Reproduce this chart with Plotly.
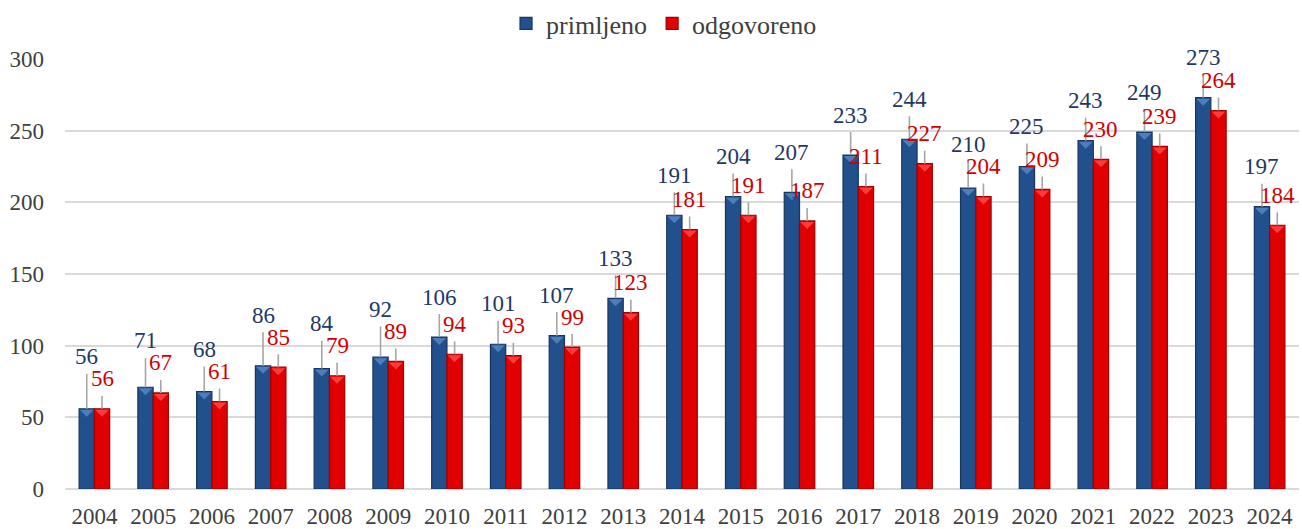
import plotly.graph_objects as go

years = [2004, 2005, 2006, 2007, 2008, 2009, 2010, 2011, 2012, 2013, 2014,
         2015, 2016, 2017, 2018, 2019, 2020, 2021, 2022, 2023, 2024]
primljeno = [56, 71, 68, 86, 84, 92, 106, 101, 107, 133, 191,
             204, 207, 233, 244, 210, 225, 243, 249, 273, 197]
odgovoreno = [56, 67, 61, 85, 79, 89, 94, 93, 99, 123, 181,
              191, 187, 211, 227, 204, 209, 230, 239, 264, 184]
series_names = ["primljeno", "odgovoreno"]

FONT = "Liberation Serif, Times New Roman, serif"
BLUE = "#22508D"
BLUE_EDGE = "#17365F"
BLUE_TOP = "#4E7DBB"
RED = "#E00000"
RED_EDGE = "#A00000"
RED_TOP = "#FF3B3B"
BLUE_TXT = "#1F3864"
RED_TXT = "#D00000"
BW = 0.26

W, H = 1302, 529
M = dict(l=65, r=3, t=59, b=40)
YMAX = 300
px_per_unit = (H - M["t"] - M["b"]) / YMAX

fig = go.Figure()
fig.add_trace(go.Bar(x=years, y=primljeno, name=series_names[0], offset=-BW, width=BW,
                     marker=dict(color=BLUE, line=dict(color=BLUE_EDGE, width=1.2))))
fig.add_trace(go.Bar(x=years, y=odgovoreno, name=series_names[1], offset=0, width=BW,
                     marker=dict(color=RED, line=dict(color=RED_EDGE, width=1.2))))

# bevel-like top triangles
for yr, b, r in zip(years, primljeno, odgovoreno):
    for x0, val, col in ((yr - BW, b, BLUE_TOP), (yr, r, RED_TOP)):
        x1 = x0 + BW
        xc = x0 + BW / 2
        fig.add_shape(type="path", xref="x", yref="y", ysizemode="pixel", yanchor=val,
                      path=f"M {x0 + 0.012},-1 L {x1 - 0.012},-1 L {xc},-8 Z",
                      fillcolor=col, line=dict(width=0), layer="above")

RED_OFF = 30
for yr, b, r in zip(years, primljeno, odgovoreno):
    blue_off = max(40, RED_OFF + 22 - (b - r) * px_per_unit)
    for xv, val, off, col in ((yr - BW / 2, b, blue_off, BLUE_TXT),
                              (yr + BW / 2, r, RED_OFF, RED_TXT)):
        fig.add_annotation(x=xv, y=val, text=str(val), showarrow=True, arrowhead=0,
                           arrowwidth=1.6, arrowcolor="#A6A6A6", ax=0, ay=-off,
                           standoff=0, startstandoff=4, borderpad=0,
                           font=dict(family=FONT, size=23, color=col))

fig.update_layout(
    width=W, height=H, margin=M,
    plot_bgcolor="white", paper_bgcolor="white",
    barmode="overlay",
    font=dict(family=FONT, size=23, color="#404040"),
    legend=dict(orientation="h", x=0.51, xref="container", xanchor="center",
                y=1.0, yref="container", yanchor="top",
                font=dict(family=FONT, size=26, color="#404040"),
                itemwidth=30, traceorder="normal"),
    showlegend=True,
)
fig.update_xaxes(range=[years[0] - 0.5, years[-1] + 0.5], tickvals=years,
                 ticktext=[str(y) for y in years], showgrid=False, showline=False,
                 zeroline=False, ticks="", ticklabelstandoff=11, automargin=False)
fig.update_yaxes(range=[0, YMAX], dtick=50, showgrid=True, gridcolor="#D9D9D9",
                 gridwidth=1.5, zeroline=True, zerolinecolor="#D9D9D9", zerolinewidth=1.5,
                 showline=False, ticks="", ticklabelstandoff=20, automargin=False)

fig.write_html("out.html", config={"displayModeBar": False},
               post_script="document.body.style.margin='0';document.body.style.overflow='hidden';")
